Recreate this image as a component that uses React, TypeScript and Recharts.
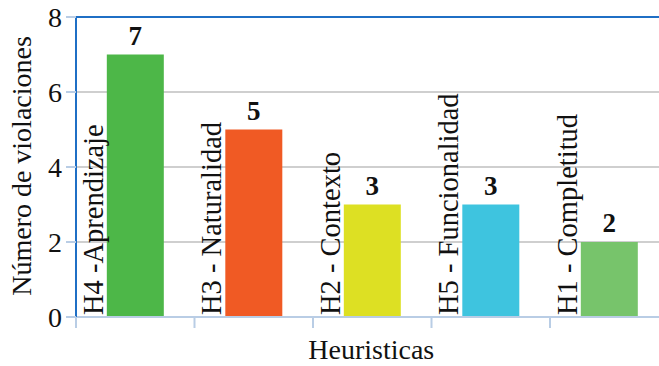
import { BarChart, Bar, XAxis, YAxis, CartesianGrid, Cell, LabelList, ReferenceLine } from 'recharts'

// Violations found per heuristic
const heuristics = ['H4 -Aprendizaje', 'H3 - Naturalidad', 'H2 - Contexto', 'H5 - Funcionalidad', 'H1 - Completitud']
const violations = [7, 5, 3, 3, 2]
const barColors = ['#4db748', '#f05a24', '#dde023', '#3ec4df', '#77c46b']
const yTicks = [0, 2, 4, 6, 8]

const data = heuristics.map((name, i) => ({ name, value: violations[i] }))

const font = "'Liberation Serif', 'Times New Roman', serif"
const axisBlue = '#1f6fc5'
const tickBlue = '#b9cde5'
const textStyle = { fontFamily: font, fontSize: 28, fill: '#111' }

// Category name written sideways, just left of its bar
const SideLabel = (props: any) => {
  const { x, y, height, value } = props
  const bx = Number(x) - 4
  const by = Number(y) + Number(height) - 2
  return (
    <text x={bx} y={by} transform={`rotate(-90, ${bx}, ${by})`} textAnchor="start" style={{ ...textStyle, fontSize: 28.5 }}>
      {value}
    </text>
  )
}

// Tick marks sit on the category boundaries rather than the centres
const BoundaryTick = (props: any) => {
  const { x, y, payload } = props
  const half = payload?.offset ?? 0
  return (
    <line x1={x - half} x2={x - half} y1={y - 8} y2={y + 3} stroke={tickBlue} strokeWidth={2} />
  )
}

export default function App() {
  return (
    <div style={{ position: 'absolute', left: 0, top: 0, width: 659, height: 366, overflow: 'hidden', background: '#fff' }}>
      <BarChart
        width={670}
        height={366}
        data={data}
        margin={{ top: 17, right: 1.5, bottom: 0, left: 0 }}
        barCategoryGap="26%"
        style={{ fontFamily: font }}
      >
        <CartesianGrid vertical={false} stroke="#bfbfbf" strokeWidth={1.5} />
        <XAxis
          dataKey="name"
          height={49}
          axisLine={{ stroke: tickBlue, strokeWidth: 2 }}
          tickLine={false}
          tick={<BoundaryTick />}
          interval={0}
          label={{
            content: (p: any) => {
              const vb = p.viewBox
              return (
                <text x={vb.x + vb.width / 2 - 1} y={vb.y + 42} textAnchor="middle" style={textStyle}>
                  Heuristicas
                </text>
              )
            }
          }}
        />
        <YAxis
          width={76}
          domain={[0, 8]}
          ticks={yTicks}
          interval={0}
          axisLine={{ stroke: axisBlue, strokeWidth: 2 }}
          tickLine={{ stroke: tickBlue, strokeWidth: 2 }}
          tickSize={10}
          tickMargin={4}
          tick={{ style: textStyle, fontSize: 28, fill: '#111' }}
          label={{
            content: () => (
              <text x={31} y={166} transform="rotate(-90, 31, 166)" textAnchor="middle" style={textStyle}>
                Número de violaciones
              </text>
            )
          }}
        />
        <ReferenceLine y={8} stroke={axisBlue} strokeWidth={2} />
        <Bar dataKey="value" isAnimationActive={false}>
          {data.map((d, i) => (
            <Cell key={d.name} fill={barColors[i]} />
          ))}
          <LabelList dataKey="name" content={<SideLabel />} />
          <LabelList
            dataKey="value"
            position="top"
            offset={10}
            style={{ fontFamily: font, fontSize: 27, fontWeight: 'bold', fill: '#111' }}
          />
        </Bar>
      </BarChart>
    </div>
  )
}
